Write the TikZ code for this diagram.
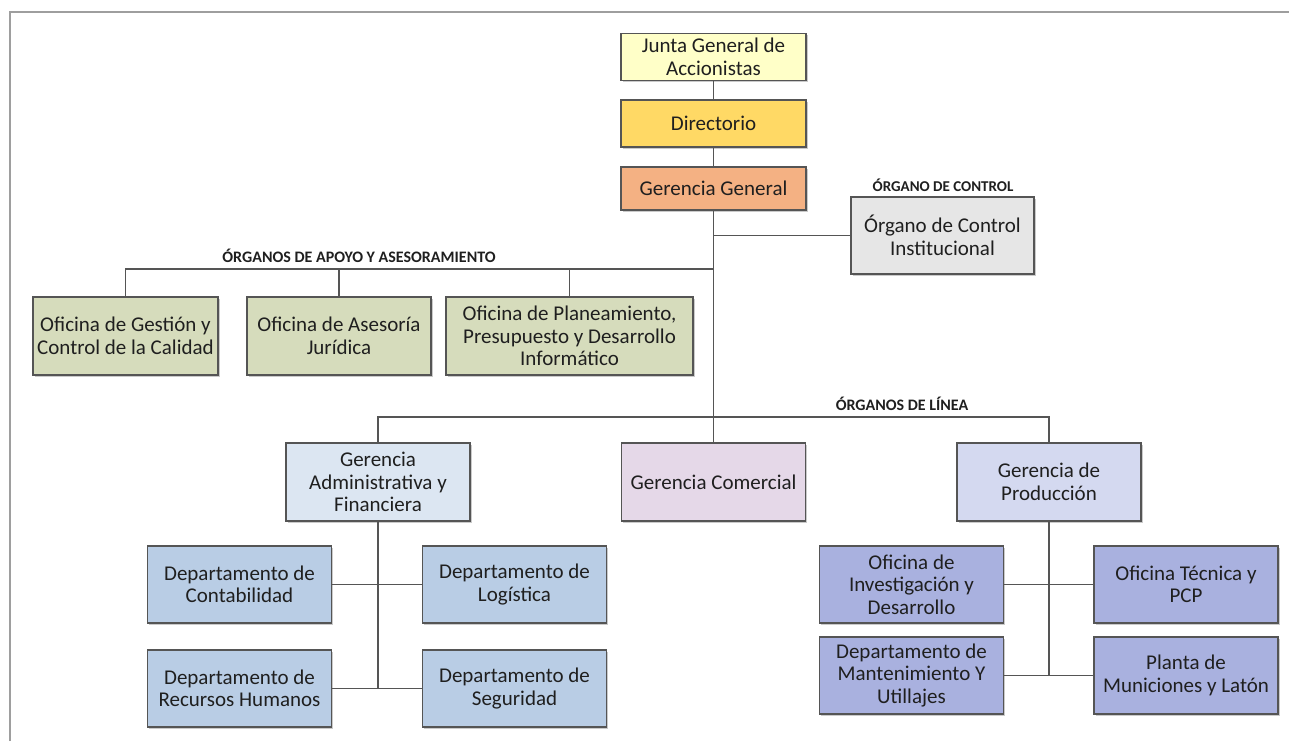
\documentclass[tikz,border=0pt]{standalone}
\usepackage{fontspec}
\setmainfont{Carlito}
\usepackage{tikz}
\usetikzlibrary{shadows}

\definecolor{juntafill}{HTML}{FFFFC8}
\definecolor{dirfill}{HTML}{FFD965}
\definecolor{ggfill}{HTML}{F4B183}
\definecolor{ocifill}{HTML}{E6E6E6}
\definecolor{apoyofill}{HTML}{D6DCBC}
\definecolor{gaffill}{HTML}{DCE6F2}
\definecolor{gcomfill}{HTML}{E5D8E8}
\definecolor{gprodfill}{HTML}{D4D9F0}
\definecolor{deptfill}{HTML}{B9CDE5}
\definecolor{prodfill}{HTML}{A9B1DF}
\definecolor{edgegray}{HTML}{555555}

\begin{document}
\begin{tikzpicture}[
  x=1pt, y=-1pt,
  box/.style={draw=edgegray, line width=1.1pt, inner sep=0pt, align=center,
    font=\fontsize{21}{22.5}\selectfont, text=black!88,
    drop shadow={shadow xshift=1.6pt, shadow yshift=-1.6pt, opacity=0.35, fill=black!60}},
  top/.style={box, minimum width=185pt, minimum height=47pt},
  unit/.style={box, minimum width=184pt, minimum height=78pt},
  dept/.style={box, fill=deptfill, minimum width=184pt, minimum height=77pt},
  prod/.style={box, fill=prodfill, minimum width=184pt, minimum height=77pt},
  conn/.style={draw=edgegray, line width=1.3pt},
  grp/.style={font=\fontsize{16}{18}\selectfont\bfseries, text=black!88},
  frame/.style={draw=black!38, line width=2pt},
]
\useasboundingbox (0,0) rectangle (1289,743);
\draw[frame] (9.5,741) -- (9.5,12.5) -- (1289,12.5);

% ------------------------------------------------------------------
% direccion
% ------------------------------------------------------------------
\node[top, fill=juntafill] (junta) at (713.5,57) {Junta General de\\Accionistas};
\node[top, fill=dirfill] (dir) at (713.5,123.5) {Directorio};
\node[top, fill=ggfill, minimum height=43pt] (gg) at (713.5,188.5) {Gerencia General};

\node[grp, font=\fontsize{15}{17}\selectfont\bfseries] (ctrllab) at (943,185) {ÓRGANO DE CONTROL};
\node[unit, fill=ocifill, minimum width=183pt, minimum height=77pt] (oci) at (942.5,235.5)
     {Órgano de Control\\Institucional};

% ------------------------------------------------------------------
% organos de apoyo y asesoramiento
% ------------------------------------------------------------------
\node[grp] (apoyolab) at (359,256) {ÓRGANOS DE APOYO Y ASESORAMIENTO};
\coordinate (apoyo) at (713.5,269);

\node[unit, fill=apoyofill, minimum width=185pt] (ofgc) at (125.5,336)
     {Oficina de Gestión y\\Control de la Calidad};
\node[unit, fill=apoyofill] (ofaj) at (339,336) {Oficina de Asesoría\\Jurídica};
\node[unit, fill=apoyofill, minimum width=247pt] (ofpp) at (569.5,336)
     {Oficina de Planeamiento,\\Presupuesto y Desarrollo\\Informático};

% ------------------------------------------------------------------
% organos de linea
% ------------------------------------------------------------------
\node[grp] (linealab) at (902,404) {ÓRGANOS DE LÍNEA};
\coordinate (linea) at (713.5,417);

\node[unit, fill=gaffill] (gaf) at (378,482) {Gerencia\\Administrativa y\\Financiera};
\node[unit, fill=gcomfill] (gcom) at (713.5,482) {Gerencia Comercial};
\node[unit, fill=gprodfill] (gprod) at (1049,482) {Gerencia de\\Producción};

% departamentos
\node[dept] (dcont) at (239.5,584.5) {Departamento de\\Contabilidad};
\node[dept] (dlog) at (514.5,584.5) {Departamento de\\Logística};
\node[dept] (drrhh) at (239.5,688.5) {Departamento de\\Recursos Humanos};
\node[dept] (dseg) at (514.5,688.5) {Departamento de\\Seguridad};

\node[prod] (dinv) at (911.5,584.5) {Oficina de\\Investigación y\\Desarrollo};
\node[prod] (dtec) at (1186,584.5) {Oficina Técnica y\\PCP};
\node[prod] (dmant) at (911.5,675.5) {Departamento de\\Mantenimiento Y\\Utillajes};
\node[prod] (dplan) at (1186,675.5) {Planta de\\Municiones y Latón};

% ------------------------------------------------------------------
% connectors
% ------------------------------------------------------------------
\draw[conn] (junta) -- (dir);
\draw[conn] (dir) -- (gg);
\draw[conn] (gg) -- (gcom);
\draw[conn] (oci) -- (gg.south |- oci);

\draw[conn] (ofgc) |- (apoyo);
\draw[conn] (ofaj) -- (ofaj |- apoyo);
\draw[conn] (ofpp) -- (ofpp |- apoyo);

\draw[conn] (gaf) |- (linea) -| (gprod);

\draw[conn] (gaf) -- (gaf |- drrhh);
\draw[conn] (dcont) -- (dlog);
\draw[conn] (drrhh) -- (dseg);

\draw[conn] (gprod) -- (gprod |- dmant);
\draw[conn] (dinv) -- (dtec);
\draw[conn] (dmant) -- (dplan);
\end{tikzpicture}
\end{document}
